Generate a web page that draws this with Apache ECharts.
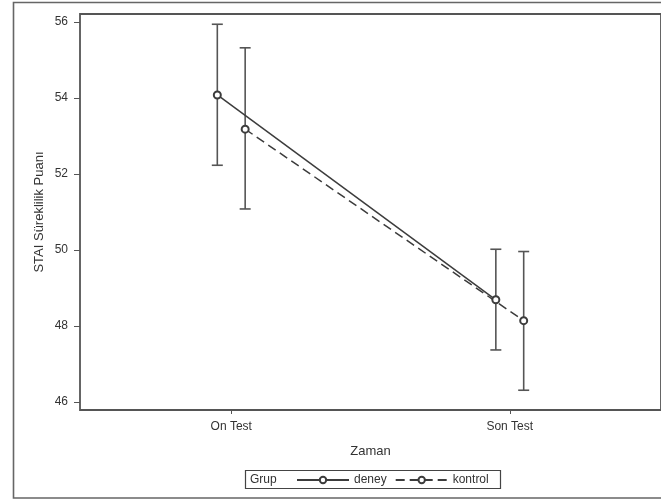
<!DOCTYPE html>
<html><head><meta charset="utf-8">
<script src="https://cdn.jsdelivr.net/npm/echarts@6/dist/echarts.min.js"></script>
<style>html,body{margin:0;padding:0;background:#fff}#c{width:661px;height:503px}</style>
</head><body><div id="c"></div>
<script>
const categories = ['On Test', 'Son Test'];
const deneyMean = [54.08, 48.69];
const deneyLow = [52.23, 47.37];
const deneyHigh = [55.94, 50.02];
const kontrolMean = [53.18, 48.14];
const kontrolLow = [51.08, 46.31];
const kontrolHigh = [55.32, 49.96];
const yTicks = [46, 48, 50, 52, 54, 56];
const xTicks = [1, 2];

const DODGE = 0.05;
const FONT = '"Liberation Sans", Arial, sans-serif';
const INK = '#333';
const LINE = '#3c3c3c';

function pts(mean, off) { return mean.map((v, i) => [i + 1 + off, v]); }
function bars(low, high, off) { return low.map((v, i) => [i + 1 + off, v, high[i]]); }

function renderBar(params, api) {
  const x = api.value(0);
  const lo = api.coord([x, api.value(1)]);
  const hi = api.coord([x, api.value(2)]);
  const w = 5.5;
  const st = { stroke: '#555', lineWidth: 1.6 };
  return { type: 'group', children: [
    { type: 'line', shape: { x1: lo[0], y1: lo[1], x2: hi[0], y2: hi[1] }, style: st },
    { type: 'line', shape: { x1: lo[0] - w, y1: lo[1], x2: lo[0] + w, y2: lo[1] }, style: st },
    { type: 'line', shape: { x1: hi[0] - w, y1: hi[1], x2: hi[0] + w, y2: hi[1] }, style: st }
  ]};
}

const chart = echarts.init(document.getElementById('c'), null, { renderer: 'canvas' });
chart.setOption({
  animation: false,
  backgroundColor: '#fff',
  textStyle: { fontFamily: FONT },
  grid: { left: 80, top: 14, width: 584, height: 396, show: true, borderColor: '#555', borderWidth: 1.8, backgroundColor: 'transparent' },
  xAxis: {
    type: 'value', min: 0.457, max: 2.543,
    name: 'Zaman', nameLocation: 'middle', nameGap: 35, nameMoveOverlap: false,
    nameTextStyle: { fontFamily: FONT, fontSize: 13, color: INK },
    axisLine: { show: false },
    splitLine: { show: false },
    axisTick: { show: true, customValues: xTicks, length: 4, lineStyle: { color: '#555' } },
    axisLabel: { customValues: xTicks, formatter: v => categories[Math.round(v) - 1], fontFamily: FONT, fontSize: 12, color: INK, margin: 11 }
  },
  yAxis: {
    type: 'value', min: 45.79, max: 56.21,
    name: 'STAI Süreklilik Puanı', nameLocation: 'middle', nameGap: 34, nameRotate: 90, nameMoveOverlap: false,
    nameTextStyle: { fontFamily: FONT, fontSize: 13, color: INK },
    axisLine: { show: false },
    splitLine: { show: false },
    axisTick: { show: true, customValues: yTicks, length: 6, lineStyle: { color: '#555' } },
    axisLabel: { customValues: yTicks, fontFamily: FONT, fontSize: 12, color: INK, margin: 12 }
  },
  legend: {
    data: ['deney', 'kontrol'], left: 296, top: 474, padding: 0,
    itemWidth: 52, itemHeight: 8, itemGap: 8,
    textStyle: { fontFamily: FONT, fontSize: 12, color: INK }
  },
  graphic: [
    { type: 'rect', shape: { x: 13.5, y: 2.5, width: 700, height: 495.5 }, style: { fill: 'none', stroke: '#666', lineWidth: 1.6 }, silent: true },
    { type: 'rect', shape: { x: 245.5, y: 470.5, width: 255, height: 18 }, style: { fill: 'none', stroke: '#444', lineWidth: 1.2 }, silent: true },
    { type: 'text', left: 250, top: 474, style: { text: 'Grup', font: '12px ' + FONT, fill: INK }, silent: true }
  ],
  series: [
    { name: 'deneyErr', type: 'custom', renderItem: renderBar, data: bars(deneyLow, deneyHigh, -DODGE), z: 1 },
    { name: 'kontrolErr', type: 'custom', renderItem: renderBar, data: bars(kontrolLow, kontrolHigh, DODGE), z: 1 },
    { name: 'deney', type: 'line', data: pts(deneyMean, -DODGE), symbol: 'emptyCircle', symbolSize: 7,
      lineStyle: { color: LINE, width: 1.5 }, itemStyle: { color: LINE, borderColor: LINE, borderWidth: 1.2 }, z: 3 },
    { name: 'kontrol', type: 'line', data: pts(kontrolMean, DODGE), symbol: 'emptyCircle', symbolSize: 7,
      lineStyle: { color: LINE, width: 1.5, type: [9, 5] }, itemStyle: { color: LINE, borderColor: LINE, borderWidth: 1.2 }, z: 3 }
  ]
});
</script></body></html>
